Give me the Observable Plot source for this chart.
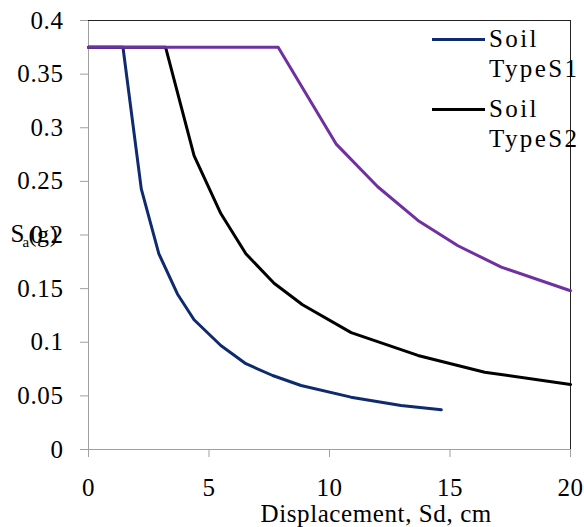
<!DOCTYPE html>
<html>
<head>
<meta charset="utf-8">
<script src="https://cdn.jsdelivr.net/npm/d3@7"></script>
<script src="https://cdn.jsdelivr.net/npm/@observablehq/plot@0.6"></script>
<style>
  body { margin: 0; background: white; }
  #chart { position: relative; width: 584px; height: 527px; font-family: "Liberation Serif", serif; }
  .leg { position: absolute; left: 432px; font-size: 25px; line-height: 30px; letter-spacing: 2.4px; color: black; }
  .leg .sw { position: absolute; left: 0; width: 53px; height: 3px; }
  .leg .tx { position: absolute; left: 57px; white-space: nowrap; }
</style>
</head>
<body>
<div id="chart"></div>
<script>
// Data
const xTicks = [0, 5, 10, 15, 20];
const yTicks = [0, 0.05, 0.1, 0.15, 0.2, 0.25, 0.3, 0.35, 0.4];
const yTickLabels = ["0", "0.05", "0.1", "0.15", "0.2", "0.25", "0.3", "0.35", "0.4"];

const s1x = [0, 1.43, 2.19, 2.92, 3.69, 4.38, 5.49, 6.53, 7.64, 8.82, 10.89, 12.97, 14.64];
const s1y = [0.375, 0.375, 0.243, 0.1825, 0.145, 0.121, 0.097, 0.080, 0.069, 0.0597, 0.0488, 0.041, 0.037];

const s2x = [0, 3.2, 4.38, 5.49, 6.53, 7.7, 8.88, 10.9, 13.67, 16.44, 20];
const s2y = [0.375, 0.375, 0.274, 0.220, 0.1825, 0.155, 0.135, 0.109, 0.0877, 0.0721, 0.0606];

const s3x = [0, 7.87, 10.27, 12.0, 13.67, 15.33, 17.13, 20];
const s3y = [0.375, 0.375, 0.285, 0.245, 0.2136, 0.190, 0.170, 0.148];

const legendLabels = [["Soil", "TypeS1"], ["Soil", "TypeS2"]];
const colors = ["#0f2b6e", "#000000", "#7030a0"];
const xTitle = "Displacement, Sd, cm";

const toRows = (xs, ys) => xs.map((x, i) => ({x, y: ys[i]}));
const d1 = toRows(s1x, s1y), d2 = toRows(s2x, s2y), d3r = toRows(s3x, s3y);

const chart = Plot.plot({
  width: 584,
  height: 527,
  marginLeft: 88,
  marginRight: 14,
  marginTop: 20,
  marginBottom: 78,
  style: {background: "white", fontFamily: "'Liberation Serif', serif", fontSize: "25px", letterSpacing: "0.6px", overflow: "visible"},
  x: {domain: [xTicks[0], xTicks[xTicks.length - 1]]},
  y: {domain: [yTicks[0], yTicks[yTicks.length - 1]]},
  marks: [
    Plot.axisX({ticks: xTicks, tickSize: 8, tickPadding: 21, stroke: "#a0a0a0", fill: "black", label: null, tickFormat: d => String(d)}),
    Plot.axisY({ticks: yTicks, tickSize: 8, tickPadding: 17, stroke: "#a0a0a0", fill: "black", label: null,
                tickFormat: d => yTickLabels[yTicks.indexOf(d)]}),
    Plot.ruleY([yTicks[0]], {stroke: "#a0a0a0"}),
    Plot.ruleX([xTicks[0]], {stroke: "#a0a0a0"}),
    Plot.ruleY([yTicks[yTicks.length - 1]], {stroke: "#222"}),
    Plot.ruleX([xTicks[xTicks.length - 1]], {stroke: "#222"}),
    Plot.line(d2, {x: "x", y: "y", stroke: colors[1], strokeWidth: 3}),
    Plot.line(d1, {x: "x", y: "y", stroke: colors[0], strokeWidth: 3}),
    Plot.line(d3r, {x: "x", y: "y", stroke: colors[2], strokeWidth: 3}),
    Plot.text([xTitle], {frameAnchor: "bottom-left", dx: 172, dy: 72, textAnchor: "start", lineAnchor: "bottom", fontSize: 25, fill: "black"}),
    Plot.text(["S"], {frameAnchor: "top-left", dx: -78, dy: 221, textAnchor: "start", lineAnchor: "bottom", fontSize: 25, fill: "black"}),
    Plot.text(["a"], {frameAnchor: "top-left", dx: -66, dy: 226, textAnchor: "start", lineAnchor: "bottom", fontSize: 15, fill: "black"}),
    Plot.text(["(g)"], {frameAnchor: "top-left", dx: -60, dy: 221, textAnchor: "start", lineAnchor: "bottom", fontSize: 24, letterSpacing: "2px", fill: "black"})
  ]
});

const container = document.getElementById("chart");
container.appendChild(chart);

// Legend (overlaid at the upper right, as in the reference)
const legTops = [24, 94];
legendLabels.forEach((lines, i) => {
  const item = document.createElement("div");
  item.className = "leg";
  item.style.top = legTops[i] + "px";
  const sw = document.createElement("span");
  sw.className = "sw";
  sw.style.background = colors[i];
  sw.style.top = "14px";
  item.appendChild(sw);
  lines.forEach((t, j) => {
    const tx = document.createElement("span");
    tx.className = "tx";
    tx.style.top = (j * 30) + "px";
    tx.textContent = t;
    item.appendChild(tx);
  });
  container.appendChild(item);
});
</script>
</body>
</html>
